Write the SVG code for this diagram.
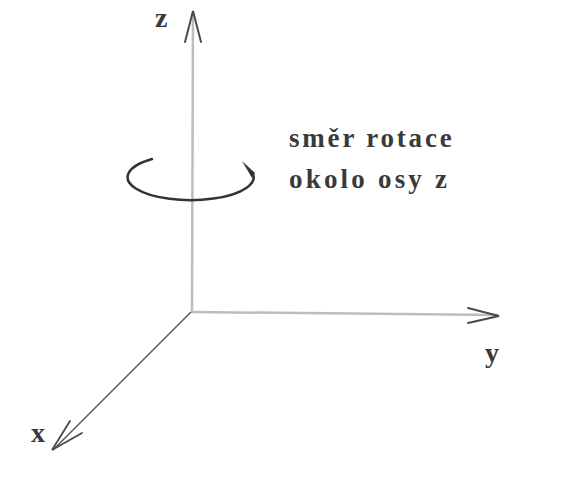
<svg xmlns="http://www.w3.org/2000/svg" width="566" height="489" viewBox="0 0 566 489">
<style>
.lbl{font-family:"Liberation Serif","Times New Roman",serif;font-weight:bold;fill:#3a3a3a}
.axl{fill:none;stroke:#bdbdbd;stroke-width:2.5}
.head{fill:none;stroke:#4a4a4a;stroke-width:2;stroke-linecap:round}
</style>
<rect width="566" height="489" fill="#ffffff"/>
<g id="connectors">
<g id="axis-z">
<line class="axl" x1="192" y1="312" x2="193" y2="12"/>
<polyline class="head" points="185,42 193,11 201,42"/>
</g>
<g id="axis-y">
<line class="axl" x1="191" y1="312" x2="498" y2="315"/>
<polyline class="head" points="468,308 499,316 468,323"/>
</g>
<g id="axis-x">
<line x1="191" y1="312" x2="53" y2="450" stroke="#555" stroke-width="1.5"/>
<polyline class="head" points="70,421 52,450 82,433" style="stroke-width:1.8"/>
</g>
<g id="rotation">
<path d="M152,159 A63,23 0 1,0 252,172" fill="none" stroke="#333" stroke-width="2.5" stroke-linecap="round"/>
<path d="M242,161 L255,173 L252,178 Z" fill="#333"/>
</g>
</g>
<g id="label-z"><text class="lbl" x="155" y="27" font-size="28">z</text></g>
<g id="label-y"><text class="lbl" x="485" y="362" font-size="28">y</text></g>
<g id="label-x"><text class="lbl" x="31" y="442" font-size="28">x</text></g>
<g id="label-rotation">
<text class="lbl" x="289" y="147" font-size="27" letter-spacing="2.8">směr rotace</text>
<text class="lbl" x="289" y="188" font-size="27" letter-spacing="3.2">okolo osy z</text>
</g>
</svg>
